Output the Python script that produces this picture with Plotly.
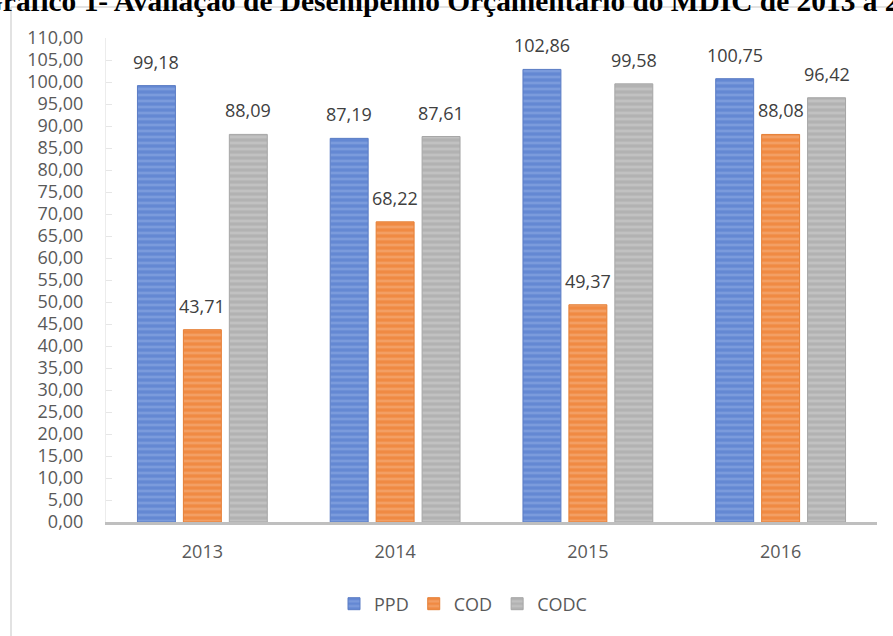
import plotly.graph_objects as go

years = ["2013", "2014", "2015", "2016"]
series_names = ["PPD", "COD", "CODC"]
ppd = [99.18, 87.19, 102.86, 100.75]
cod = [43.71, 68.22, 49.37, 88.08]
codc = [88.09, 87.61, 99.58, 96.42]
y_ticks = [i * 5 for i in range(23)]
y_tick_labels = [f"{v:.2f}".replace(".", ",") for v in y_ticks]

bg_colors = ["#6488d3", "#f08a43", "#b2b2b2"]
fg_colors = ["#92ade5", "#f6b486", "#d0d0d0"]
edge_colors = ["#5a7cc4", "#e57f36", "#a6a6a6"]

# plot area in pixels
L, R, T, B = 106, 877, 38, 522
W, H = 893, 636

def px(x):
    return (x - L) / (R - L)

def py(y):
    return (B - y) / (B - T)

fig = go.Figure()
all_vals = [ppd, cod, codc]
for i, (name, vals) in enumerate(zip(series_names, all_vals)):
    fig.add_trace(go.Bar(
        x=years, y=vals, name=name,
        marker=dict(
            color=bg_colors[i],
            line=dict(color=edge_colors[i], width=1),
            pattern=dict(shape="-", fgcolor=fg_colors[i], bgcolor=bg_colors[i],
                         size=6, solidity=0.45, fillmode="overlay"),
        ),
        hoverinfo="skip",
    ))

annotations = []
slot = 46
for i, vals in enumerate(all_vals):
    for j, v in enumerate(vals):
        annotations.append(dict(
            x=j, y=v, xref="x", yref="y", text=f"{v:.2f}".replace(".", ","),
            showarrow=False, xshift=(i - 1) * slot, yshift=24,
            yanchor="middle", xanchor="center",
            font=dict(family="Open Sans", size=18, color="#404040"),
        ))

annotations.append(dict(
    x=px(-22), y=py(1), xref="paper", yref="paper",
    text="<b>Gráfico 1- Avaliação de Desempenho Orçamentário do MDIC de 2013 a 2016</b>",
    showarrow=False, xanchor="left", yanchor="middle",
    font=dict(family="Liberation Serif", size=29.4, color="#000000"),
))

shapes = [
    dict(type="line", xref="paper", yref="paper", x0=px(11), x1=px(11), y0=py(7), y1=py(700),
         line=dict(color="#d9d9d9", width=1.5)),
    dict(type="line", xref="paper", yref="paper", x0=px(11), x1=px(950), y0=py(7), y1=py(7),
         line=dict(color="#d9d9d9", width=1.5)),
]

fig.update_layout(
    width=W, height=H,
    margin=dict(l=L, r=W - R, t=T, b=H - B, pad=0),
    paper_bgcolor="white", plot_bgcolor="white",
    barmode="group", bargap=0.285, bargroupgap=0.174,
    font=dict(family="Open Sans", size=18, color="#595959"),
    showlegend=True,
    legend=dict(orientation="h", x=px(463), y=py(604), xanchor="center", yanchor="middle",
                font=dict(family="Open Sans", size=18, color="#595959"),
                itemwidth=30, traceorder="normal"),
    annotations=annotations,
    shapes=shapes,
)
fig.update_xaxes(
    type="category", range=[-0.5, len(years) - 0.5],
    showline=True, linecolor="#bfbfbf", linewidth=3, ticks="", showgrid=False,
    ticklabelstandoff=11, tickfont=dict(family="Open Sans", size=18, color="#595959"),
)
fig.update_yaxes(
    range=[0, 110], tickvals=y_ticks, ticktext=y_tick_labels, showgrid=False,
    showline=True, linecolor="#ececec", linewidth=1, ticks="inside", ticklen=6,
    tickcolor="#e6e6e6", ticklabelstandoff=18, zeroline=False,
    tickfont=dict(family="Open Sans", size=18, color="#595959"),
)

fig.write_html("out.html")
